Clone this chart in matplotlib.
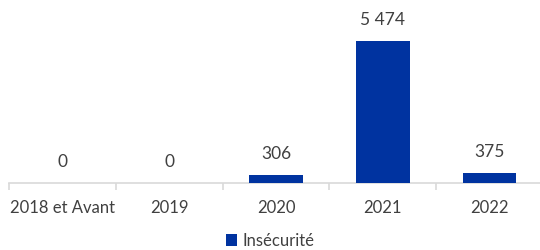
import numpy as np
import matplotlib.pyplot as plt

categories = ["2018 et Avant", "2019", "2020", "2021", "2022"]
values = [0, 0, 306, 5474, 375]
value_labels = ["0", "0", "306", "5 474", "375"]
series_name = "Insécurité"

plt.rcParams['font.family'] = ['Lato', 'DejaVu Sans']
bar_color = "#0033A0"
text_color = "#404040"

fig = plt.figure(figsize=(5.4, 2.5), dpi=100)
# axis spans x 9..543 px, baseline at y=183 px
ax = fig.add_axes([9 / 540, (250 - 183) / 250, 534 / 540, 155 / 250])

x = np.arange(len(categories))
bars = ax.bar(x, values, width=0.5, color=bar_color, zorder=3)
ax.set_xlim(-0.5, len(categories) - 0.5)
ax.set_ylim(0, 5474 * 155 / 142)

for xi, v, lab in zip(x, values, value_labels):
    ax.annotate(lab, (xi, v), xytext=(0, 15), textcoords="offset points",
                ha="center", va="center", fontsize=12.5, color=text_color)

for s in ["top", "right", "left"]:
    ax.spines[s].set_visible(False)
ax.spines["bottom"].set_color("#D9D9D9")
ax.spines["bottom"].set_linewidth(1.2)
ax.set_yticks([])
ax.set_xticks(np.arange(len(categories) + 1) - 0.5)
ax.set_xticklabels([])
ax.tick_params(axis="x", length=5, color="#D9D9D9", width=1.2)
ax.set_xticks(x, minor=True)
ax.set_xticklabels(categories, minor=True, fontsize=12, color=text_color)
ax.tick_params(axis="x", which="minor", length=0, pad=12)

fig.legend([bars], [series_name], loc="center", bbox_to_anchor=(0.5, 1 - 240.5 / 250),
           frameon=False, fontsize=12, labelcolor=text_color,
           handlelength=0.7, handleheight=0.7, handletextpad=0.3)

fig.savefig("out.png", dpi=100)
plt.close(fig)
